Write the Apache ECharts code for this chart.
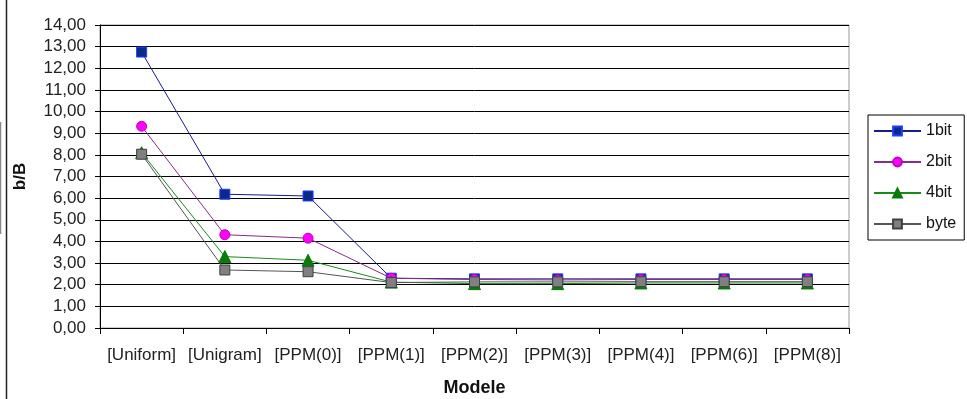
<!DOCTYPE html>
<html>
<head>
<meta charset="utf-8">
<script src="https://cdn.jsdelivr.net/npm/echarts@6/dist/echarts.min.js"></script>
<style>html,body{margin:0;padding:0;background:#fff}#c{width:967px;height:399px}</style>
</head>
<body>
<div id="c"></div>
<script>
const categories = ['[Uniform]','[Unigram]','[PPM(0)]','[PPM(1)]','[PPM(2)]','[PPM(3)]','[PPM(4)]','[PPM(6)]','[PPM(8)]'];
const bit1 = [12.75, 6.18, 6.10, 2.30, 2.27, 2.27, 2.27, 2.27, 2.27];
const bit2 = [9.32, 4.31, 4.15, 2.30, 2.24, 2.22, 2.24, 2.24, 2.24];
const bit4 = [8.10, 3.30, 3.13, 2.12, 2.05, 2.05, 2.08, 2.08, 2.08];
const byteS = [8.03, 2.68, 2.60, 2.10, 2.13, 2.13, 2.14, 2.14, 2.14];
const yTicks = {min: 0, max: 14, interval: 1};

const chart = echarts.init(document.getElementById('c'), null, {renderer: 'canvas'});
const font = 'Liberation Sans, Arial, sans-serif';
function mk(name, data, symbol, size, lineColor, fill, border) {
  return {
    name, type: 'line', data, symbol, symbolSize: size,
    lineStyle: {color: lineColor, width: 1},
    itemStyle: {color: fill, borderColor: border, borderWidth: 1},
    emphasis: {disabled: true}, animation: false
  };
}
chart.setOption({
  animation: false,
  textStyle: {fontFamily: font},
  grid: {left: 100, right: 118, top: 25, bottom: 71, outerBoundsMode: 'none', show: true, borderColor: '#999', borderWidth: 1, backgroundColor: '#fff'},
  legend: {
    orient: 'vertical', left: 868, top: 115,
    width: 90,
    borderColor: '#000', borderWidth: 1,
    padding: [8, 8, 8, 5], itemGap: 15,
    itemWidth: 47, itemHeight: 11,
    textStyle: {fontSize: 16, color: '#111', fontFamily: font},
    data: ['1bit','2bit','4bit','byte']
  },
  xAxis: {
    type: 'category', data: categories, boundaryGap: true,
    name: 'Modele', nameLocation: 'middle', nameGap: 51,
    nameTextStyle: {fontSize: 18, fontWeight: 'bold', color: '#111', fontFamily: font},
    axisLine: {lineStyle: {color: '#000', width: 1}},
    axisTick: {show: true, length: 6, interval: 0, lineStyle: {color: '#000'}},
    axisLabel: {fontSize: 17, color: '#222', margin: 19, interval: 0, fontFamily: font},
    splitLine: {show: false}
  },
  yAxis: {
    type: 'value', min: yTicks.min, max: yTicks.max, interval: yTicks.interval,
    name: 'b/B', nameLocation: 'middle', nameGap: 71, nameRotate: 90,
    nameTextStyle: {fontSize: 17, fontWeight: 'bold', color: '#111', fontFamily: font},
    axisLine: {show: true, lineStyle: {color: '#000', width: 1}},
    axisTick: {show: true, length: 5, lineStyle: {color: '#000'}},
    axisLabel: {fontSize: 17, color: '#222', margin: 14, fontFamily: font,
      formatter: v => v.toFixed(2).replace('.', ',')},
    splitLine: {show: true, lineStyle: {color: '#000', width: 1}}
  },
  graphic: [
    {type: 'line', shape: {x1: 6.5, y1: 0, x2: 6.5, y2: 399}, style: {stroke: '#222', lineWidth: 1.5}, silent: true},
    {type: 'line', shape: {x1: 0.5, y1: 122, x2: 0.5, y2: 234}, style: {stroke: '#888', lineWidth: 1.5}, silent: true}
  ],
  series: [
    mk('1bit', bit1, 'rect', 10, '#1a1a8c', '#0a2a8a', '#1f3dff'),
    mk('2bit', bit2, 'circle', 10, '#8a2a8a', '#ff00ff', '#c000c0'),
    mk('4bit', bit4, 'triangle', 12, '#1a8a1a', '#0a7a0a', '#0a7a0a'),
    mk('byte', byteS, 'rect', 10, '#555555', '#808080', '#404040')
  ]
});
</script>
</body>
</html>
